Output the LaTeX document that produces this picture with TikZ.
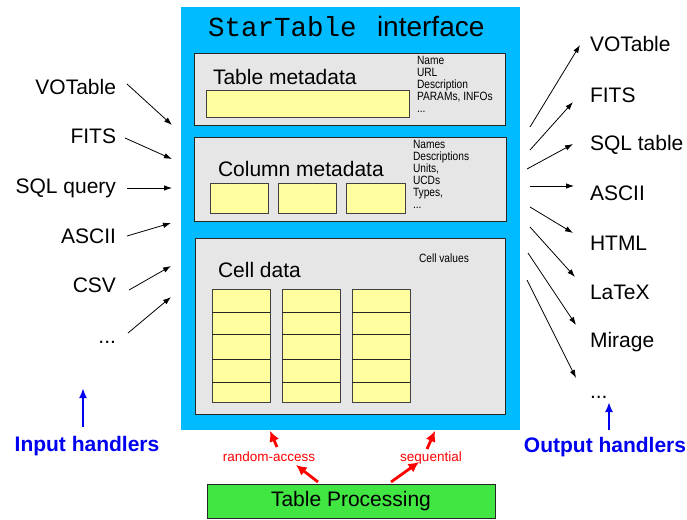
\documentclass[tikz,border=0pt]{standalone}
\usepackage{fontspec}
\setmainfont{Liberation Sans}
\newfontfamily\monofont{Liberation Mono}
\newfontfamily\narrowfont[FakeStretch=0.85]{Liberation Sans}
\usetikzlibrary{arrows.meta}
\definecolor{skyblue}{RGB}{0,187,255}
\definecolor{boxgray}{RGB}{230,230,230}
\definecolor{paleyellow}{RGB}{255,255,160}
\definecolor{brightgreen}{RGB}{66,230,66}
\definecolor{handlerblue}{RGB}{0,0,240}
\newcommand\mydots{.{}.{}.}
\begin{document}
\begin{tikzpicture}[x=1pt,y=-1pt,
 every node/.style={inner sep=0pt, outer sep=0pt, font=\fontsize{21}{25}\selectfont},
 panel/.style={draw=black!85, fill=boxgray, line width=0.9pt, anchor=north west},
 cellbox/.style={draw=black!75, fill=paleyellow, line width=0.9pt, anchor=north west},
 small/.style={font=\narrowfont\fontsize{12}{12}\selectfont, anchor=base west},
 ioarrow/.style={-{Latex[length=8pt,width=5.5pt]}, line width=0.8pt},
 redarrow/.style={draw=red, line width=2.8pt, -{Latex[length=10.5pt,width=10.5pt]}},
 redlabel/.style={text=red, font=\fontsize{13.5}{15}\selectfont, anchor=base},
 bluearrow/.style={draw=handlerblue, line width=2pt, -{Latex[length=10pt,width=8pt]}},
 handler/.style={text=handlerblue, font=\bfseries\fontsize{21}{25}\selectfont, anchor=base}]

\useasboundingbox (0,0) rectangle (687,519);

% main interface box
\node[fill=skyblue, minimum width=339pt, minimum height=423pt, anchor=north west] (iface) at (181,7) {};
\node[anchor=base west, font=\monofont\fontsize{27.5}{30}\selectfont] (t1) at (208,37) {StarTable};
\node[anchor=base west, font=\fontsize{28}{30}\selectfont] (t2) at (377,37) {interface};

% table metadata
\node[panel, minimum width=311pt, minimum height=72pt] (tmeta) at (194,53) {};
\node[anchor=base west] (tmtext) at (213,84) {Table metadata};
\node[cellbox, minimum width=203pt, minimum height=27pt] (tmy) at (206,90) {};
\foreach \t [count=\i from 0] in {Name,URL,Description,{PARAMs, INFOs},\mydots}
  \node[small] (tml\i) at (417,64+12*\i) {\t};

% column metadata
\node[panel, minimum width=312pt, minimum height=84pt] (cmeta) at (194,137) {};
\node[anchor=base west] (cmtext) at (218,176) {Column metadata};
\node[cellbox, minimum width=58pt, minimum height=30pt] (cmy1) at (210,183) {};
\node[cellbox, minimum width=58pt, minimum height=30pt] (cmy2) at (278,183) {};
\node[cellbox, minimum width=59pt, minimum height=30pt] (cmy3) at (346,183) {};
\foreach \t [count=\i from 0] in {Names,Descriptions,{Units,},UCDs,{Types,},\mydots}
  \node[small] (cml\i) at (413,148+12*\i) {\t};

% cell data
\node[panel, minimum width=310pt, minimum height=176pt] (cdata) at (195,238) {};
\node[anchor=base west] (cdtext) at (218,277) {Cell data};
\node[small] (cvals) at (419,262) {Cell values};
\foreach \x [count=\c] in {212,282,352}{
  \node[cellbox, minimum width=58pt, minimum height=113pt] (col\c) at (\x,289) {};
  \foreach \o in {23,45,70,93}
    \draw[black!85, line width=0.9pt] (col\c.north west) ++(0,\o) -- ++(58,0);
}

% input handlers
\node[anchor=base east] (in1) at (116,94) {VOTable};
\node[anchor=base east] (in2) at (116,143) {FITS};
\node[anchor=base east] (in3) at (116,193) {SQL query};
\node[anchor=base east] (in4) at (116,243) {ASCII};
\node[anchor=base east] (in5) at (116,292) {CSV};
\node[anchor=base east] (in6) at (116,343) {\mydots};
\coordinate (ia1) at (127,84);  \coordinate (ib1) at (172,125);
\coordinate (ia2) at (125,138); \coordinate (ib2) at (172,159);
\coordinate (ia3) at (127,188); \coordinate (ib3) at (172,188);
\coordinate (ia4) at (127,236); \coordinate (ib4) at (171,223);
\coordinate (ia5) at (129,290); \coordinate (ib5) at (171,266);
\coordinate (ia6) at (128,333); \coordinate (ib6) at (171,297);
\foreach \i in {1,2,3,4,5,6} \draw[ioarrow] (ia\i) -- (ib\i);

% output handlers
\node[anchor=base west] (out1) at (590,52) {VOTable};
\node[anchor=base west] (out2) at (590,102) {FITS};
\node[anchor=base west] (out3) at (590,150) {SQL table};
\node[anchor=base west] (out4) at (590,200) {ASCII};
\node[anchor=base west] (out5) at (590,250) {HTML};
\node[anchor=base west] (out6) at (590,299) {LaTeX};
\node[anchor=base west] (out7) at (590,347) {Mirage};
\node[anchor=base west] (out8) at (590,398) {\mydots};
\coordinate (oa1) at (530,127); \coordinate (ob1) at (580,45);
\coordinate (oa2) at (530,150); \coordinate (ob2) at (573,102);
\coordinate (oa3) at (527,169); \coordinate (ob3) at (573,144);
\coordinate (oa4) at (530,186); \coordinate (ob4) at (574,186);
\coordinate (oa5) at (530,207); \coordinate (ob5) at (573,233);
\coordinate (oa6) at (530,227); \coordinate (ob6) at (575,277);
\coordinate (oa7) at (528,253); \coordinate (ob7) at (576,325);
\coordinate (oa8) at (527,280); \coordinate (ob8) at (576,378);
\foreach \i in {1,2,3,4,5,6,7,8} \draw[ioarrow] (oa\i) -- (ob\i);

% handler labels
\node[handler] (ih) at (87,451) {Input handlers};
\node[handler] (oh) at (605,452) {Output handlers};
\coordinate (iha) at (83,427); \coordinate (ihb) at (83,388);
\coordinate (oha) at (609,430); \coordinate (ohb) at (609,402);
\draw[bluearrow] (iha) -- (ihb);
\draw[bluearrow] (oha) -- (ohb);

% table processing
\node[draw=black!85, fill=brightgreen, line width=0.9pt, minimum width=288pt, minimum height=34pt, anchor=north west] (tp) at (207,484) {Table Processing};
\node[redlabel] (ra) at (269,461) {random-access};
\node[redlabel] (sq) at (431,461) {sequential};
\coordinate (r1a) at (318,482); \coordinate (r1b) at (296,465);
\coordinate (r2a) at (277,447); \coordinate (r2b) at (270,431);
\coordinate (s1a) at (391,482); \coordinate (s1b) at (419,462);
\coordinate (s2a) at (427,449); \coordinate (s2b) at (435,431);
\draw[redarrow] (r1a) -- (r1b);
\draw[redarrow] (r2a) -- (r2b);
\draw[redarrow] (s1a) -- (s1b);
\draw[redarrow] (s2a) -- (s2b);
\end{tikzpicture}
\end{document}
